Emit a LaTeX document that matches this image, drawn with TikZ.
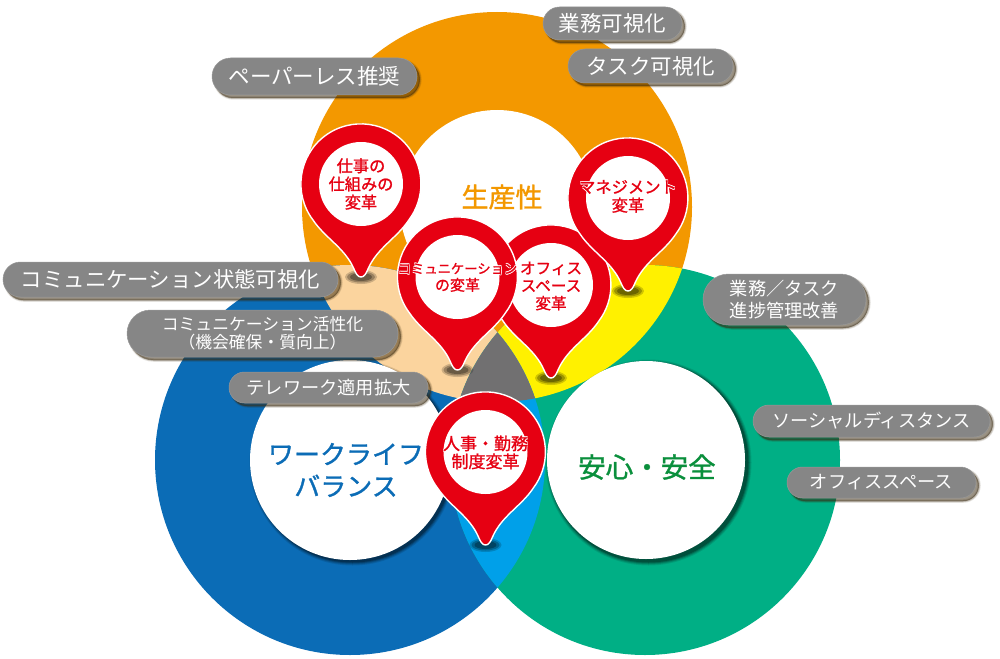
\documentclass[tikz,border=0pt]{standalone}
\usepackage{fontspec}
\setmainfont{Noto Sans CJK JP}
\newfontfamily\medfont[FakeBold=1.2]{Noto Sans CJK JP}
\usetikzlibrary{shapes.misc}
\definecolor{cOrange}{HTML}{F39800}
\definecolor{cPeach}{HTML}{FBD49E}
\definecolor{cYellow}{HTML}{FFF100}
\definecolor{cGreen}{HTML}{00AF85}
\definecolor{cBlue}{HTML}{0B6CB6}
\definecolor{cSky}{HTML}{00A0E9}
\definecolor{cGrey}{HTML}{717071}
\definecolor{cRed}{HTML}{E60012}
\definecolor{cPill}{HTML}{868686}
\definecolor{cShade}{HTML}{3A2A10}
\definecolor{cGreenText}{HTML}{0A8F3C}
\newcommand{\fs}[1]{\fontsize{#1}{#1}\selectfont}
% white halo round one line of text, all inside one node
\newcommand{\halotext}[1]{%
  \makebox[0pt]{\color{white}\raisebox{.8pt}{\makebox[0pt]{\hspace{.8pt}#1}}\raisebox{.8pt}{\makebox[0pt]{\hspace{-.8pt}#1}}\raisebox{-.8pt}{\makebox[0pt]{\hspace{.8pt}#1}}\raisebox{-.8pt}{\makebox[0pt]{\hspace{-.8pt}#1}}}%
  \makebox[0pt]{#1}}
\tikzset{
  x=1pt,y=1pt,
  pill/.style={rounded rectangle,rounded rectangle arc length=180,fill=cPill,text=white,inner sep=0pt,align=center,
    draw=cPill!85!white,line width=.5pt,
    preaction={fill=cShade,draw=cShade,line width=3.5pt,opacity=.12,transform canvas={shift={(3pt,-3pt)}}},
    preaction={fill=cShade,draw=cShade,line width=2pt,opacity=.2,transform canvas={shift={(3pt,-3pt)}}},
    preaction={fill=cShade,draw=cShade,line width=.5pt,opacity=.3,transform canvas={shift={(2.5pt,-3pt)}}}},
  pinbody/.style={fill=cRed,draw=white,line width=1.4pt},
  pinface/.style={fill=white},
  pinlabel/.style={text=cRed,align=center,inner sep=0pt},
  bigword/.style={align=center,inner sep=0pt},
}
\newcommand{\pinmark}[6]{% name, x, y, font size, text shift, text
  \begin{scope}[shift={(#2,-#3)}]
    \fill[black,opacity=.18] (0,-93) ellipse [x radius=16pt,y radius=7pt];
    \fill[black,opacity=.25] (0,-93) ellipse [x radius=14pt,y radius=5.5pt];
    \fill[black,opacity=.3] (0,-93) ellipse [x radius=11pt,y radius=4pt];
    \draw[pinbody] (-48,-36) arc[start angle=217,end angle=-37,radius=60pt]
      .. controls (36,-54) and (16,-64) .. (7,-85)
      .. controls (5,-90) and (3,-93) .. (0,-93)
      .. controls (-3,-93) and (-5,-90) .. (-7,-85)
      .. controls (-16,-64) and (-36,-54) .. (-48,-36) -- cycle;
    \fill[pinface] (0,0) circle [radius=42pt];
    \node[pinlabel,font=\medfont\fs{#4}] (#1) at (0,#5) {#6};
  \end{scope}}
\begin{document}
\begin{tikzpicture}
\useasboundingbox (0,0) rectangle (1000,-658);
\fill[white] (0,0) rectangle (1000,-658);
\coordinate (co) at (497,-207);
\coordinate (cb) at (350,-460);
\coordinate (cg) at (645,-460);
\fill[cOrange] (co) circle [radius=195pt];
\fill[cBlue] (cb) circle [radius=195pt];
\fill[cGreen] (cg) circle [radius=195pt];
\begin{scope}
  \clip (co) circle [radius=195pt];
  \fill[cPeach] (cb) circle [radius=195pt];
  \fill[cYellow] (cg) circle [radius=195pt];
\end{scope}
\begin{scope}
  \clip (cb) circle [radius=195pt];
  \fill[cSky] (cg) circle [radius=195pt];
  \clip (cg) circle [radius=195pt];
  \fill[cGrey] (co) circle [radius=195pt];
\end{scope}
\fill[white] (497,-207) circle [radius=97pt];
\foreach \rr/\oo in {103/.1,102/.14,101/.2,100/.25}{
  \fill[black,opacity=\oo] (352.5,-462.5) circle [radius=\rr pt];
  \fill[black,opacity=\oo] (648.5,-462.5) circle [radius=\rr pt];
}
\fill[white] (350,-460) circle [radius=100pt];
\fill[white] (646,-460) circle [radius=99pt];

\node[bigword,text=cOrange,font=\medfont\fs{27}] (prod) at (502,-197) {生産性};
\node[bigword,text=cBlue,font=\medfont\fs{26}] (wlb) at (346,-470) {ワークライフ\\[6pt]バランス};
\node[bigword,text=cGreenText,font=\medfont\fs{27.5}] (safe) at (647,-467) {安心・安全};

\node[pill,minimum width=205pt,minimum height=37pt,font=\fs{21.5}] (p1) at (314.5,-76.5) {ペーパーレス推奨};
\node[pill,minimum width=139pt,minimum height=33pt,font=\fs{21.5}] (p2) at (612.5,-23.5) {業務可視化};
\node[pill,minimum width=165pt,minimum height=34pt,font=\fs{21.5}] (p3) at (650.5,-66) {タスク可視化};

\pinmark{m1}{361}{184}{16.2}{0}{仕事の\\[2pt]仕組みの\\[2pt]変革}
\pinmark{m3}{551}{285}{15.6}{-1}{オフィス\\[2pt]スペース\\[2pt]変革}
\pinmark{m2}{457.5}{277}{15}{0}{\fs{13.3}\halotext{コミュニケーション}\\[2pt]の変革}
\pinmark{m4}{628}{198}{16.3}{2}{\halotext{マネジメント}\\[2pt]変革}
\pinmark{m5}{485.5}{452}{17}{0}{\halotext{人事・勤務}\\[1pt]制度変革}

\node[pill,minimum width=335pt,minimum height=35pt,font=\fs{21.4}] (p4) at (170.5,-279.5) {コミュニケーション状態可視化};
\node[pill,minimum width=271pt,minimum height=47pt,font=\fs{16.8}] (p5) at (262.5,-333.5) {コミュニケーション活性化\\[1pt]（機会確保・質向上）};
\node[pill,minimum width=199pt,minimum height=31pt,font=\fs{18.2}] (p6) at (328.5,-387.5) {テレワーク適用拡大};
\node[pill,minimum width=163pt,minimum height=51pt,font=\fs{18.2}] (p7) at (784.5,-299.5) {業務／タスク\\[3pt]進捗管理改善};
\node[pill,minimum width=237pt,minimum height=32pt,font=\fs{18.2}] (p8) at (871.5,-421) {ソーシャルディスタンス};
\node[pill,minimum width=189pt,minimum height=31pt,font=\fs{18.2}] (p9) at (881.5,-482.5) {オフィススペース};
\end{tikzpicture}
\end{document}
